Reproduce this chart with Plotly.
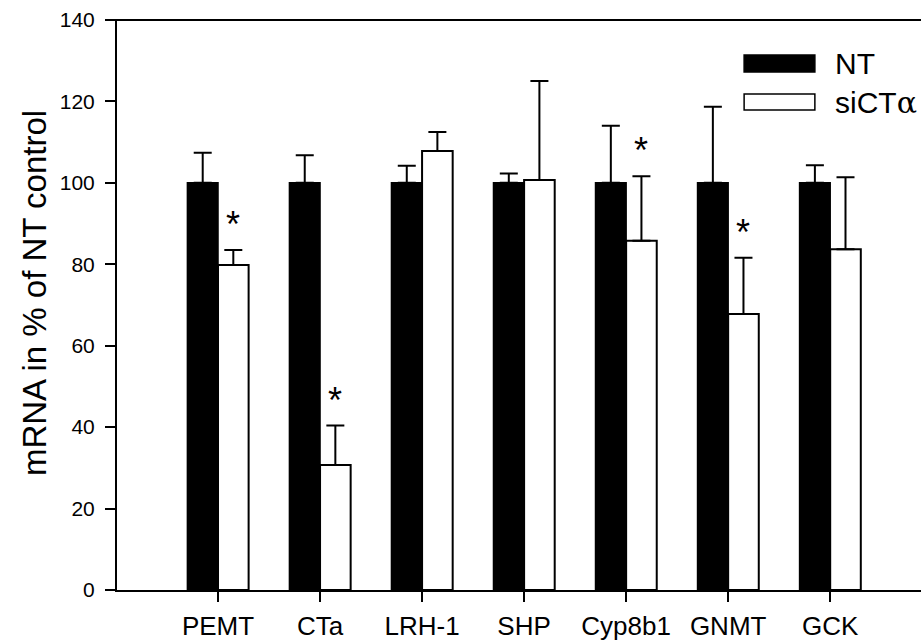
import plotly.graph_objects as go

categories = ["PEMT", "CTa", "LRH-1", "SHP", "Cyp8b1", "GNMT", "GCK"]
nt_values = [100, 100, 100, 100, 100, 100, 100]
nt_err = [7.4, 6.8, 4.2, 2.3, 14.0, 18.7, 4.3]
si_values = [79.8, 30.7, 107.8, 100.7, 85.8, 67.8, 83.7]
si_err = [3.7, 9.7, 4.7, 24.3, 15.8, 13.8, 17.7]
significant = [True, True, False, False, True, True, False]
y_ticks = [0, 20, 40, 60, 80, 100, 120, 140]

FONT = "Liberation Sans, Arial, sans-serif"
BARGAP = 0.4

fig = go.Figure()
fig.add_trace(go.Bar(
    x=categories, y=nt_values, name="NT",
    marker=dict(color="black", line=dict(color="black", width=1.5)),
    error_y=dict(type="data", symmetric=False, array=nt_err,
                 arrayminus=[0] * len(nt_err), color="black",
                 thickness=2, width=9),
    showlegend=False,
))
fig.add_trace(go.Bar(
    x=categories, y=si_values, name="siCTα",
    marker=dict(color="white", line=dict(color="black", width=2)),
    error_y=dict(type="data", symmetric=False, array=si_err,
                 arrayminus=[0] * len(si_err), color="black",
                 thickness=2, width=9),
    showlegend=False,
))

# significance asterisks above the siCTα error bars
offset = (1 - BARGAP) / 4
for i, (v, e, s) in enumerate(zip(si_values, si_err, significant)):
    if s:
        fig.add_annotation(x=i + offset, y=v + e + 7, xref="x", yref="y",
                           text="*", showarrow=False, yanchor="middle",
                           yshift=-3,
                           font=dict(family=FONT, size=36, color="black"))

# legend drawn as boxes + labels
fig.add_shape(type="rect", xref="paper", yref="paper",
              x0=0.780, x1=0.868, y0=0.9088, y1=0.9386,
              fillcolor="black", line=dict(color="black", width=1.5))
fig.add_shape(type="rect", xref="paper", yref="paper",
              x0=0.780, x1=0.868, y0=0.842, y1=0.870,
              fillcolor="white", line=dict(color="black", width=1.5))
fig.add_annotation(x=0.8905, y=0.9237, xref="paper", yref="paper",
                   text="NT", showarrow=False, xanchor="left", yanchor="middle",
                   font=dict(family=FONT, size=30, color="black"))
fig.add_annotation(x=0.8905, y=0.856, xref="paper", yref="paper",
                   text="siCT<span style=\"font-family:'DejaVu Serif'\">α</span>",
                   showarrow=False, xanchor="left", yanchor="middle",
                   font=dict(family=FONT, size=30, color="black"))

# y-axis title (placed as annotation to match its vertical position)
fig.add_annotation(x=0, y=0.521, xref="paper", yref="paper",
                   text="mRNA in % of NT control", textangle=-90,
                   showarrow=False, xanchor="center", yanchor="middle",
                   xshift=-83,
                   font=dict(family=FONT, size=33, color="black"))

# top frame line
fig.add_shape(type="line", xref="paper", yref="paper", x0=-0.013, x1=1, y0=1, y1=1,
              line=dict(color="black", width=2))

fig.update_layout(
    width=921, height=644,
    margin=dict(l=117, r=0, t=20, b=54),
    paper_bgcolor="white", plot_bgcolor="white",
    barmode="group", bargap=BARGAP, bargroupgap=0,
    font=dict(family=FONT, color="black"),
)
fig.update_xaxes(
    type="category", range=[-0.99, 6.89],
    showline=True, linecolor="black", linewidth=2,
    ticks="outside", ticklen=10, tickwidth=2, tickcolor="black",
    tickfont=dict(family=FONT, size=26, color="black"),
    ticklabelstandoff=2,
    showgrid=False, zeroline=False,
)
fig.update_yaxes(
    range=[0, 140], tickvals=y_ticks,
    showline=True, linecolor="black", linewidth=2,
    ticks="outside", ticklen=10, tickwidth=2, tickcolor="black",
    tickfont=dict(family=FONT, size=21, color="black"),
    ticklabelstandoff=6,
    showgrid=False, zeroline=False,
)

fig.write_html("out.html", config={"displayModeBar": False},
               post_script="document.body.style.margin='0';document.body.style.padding='0';")
